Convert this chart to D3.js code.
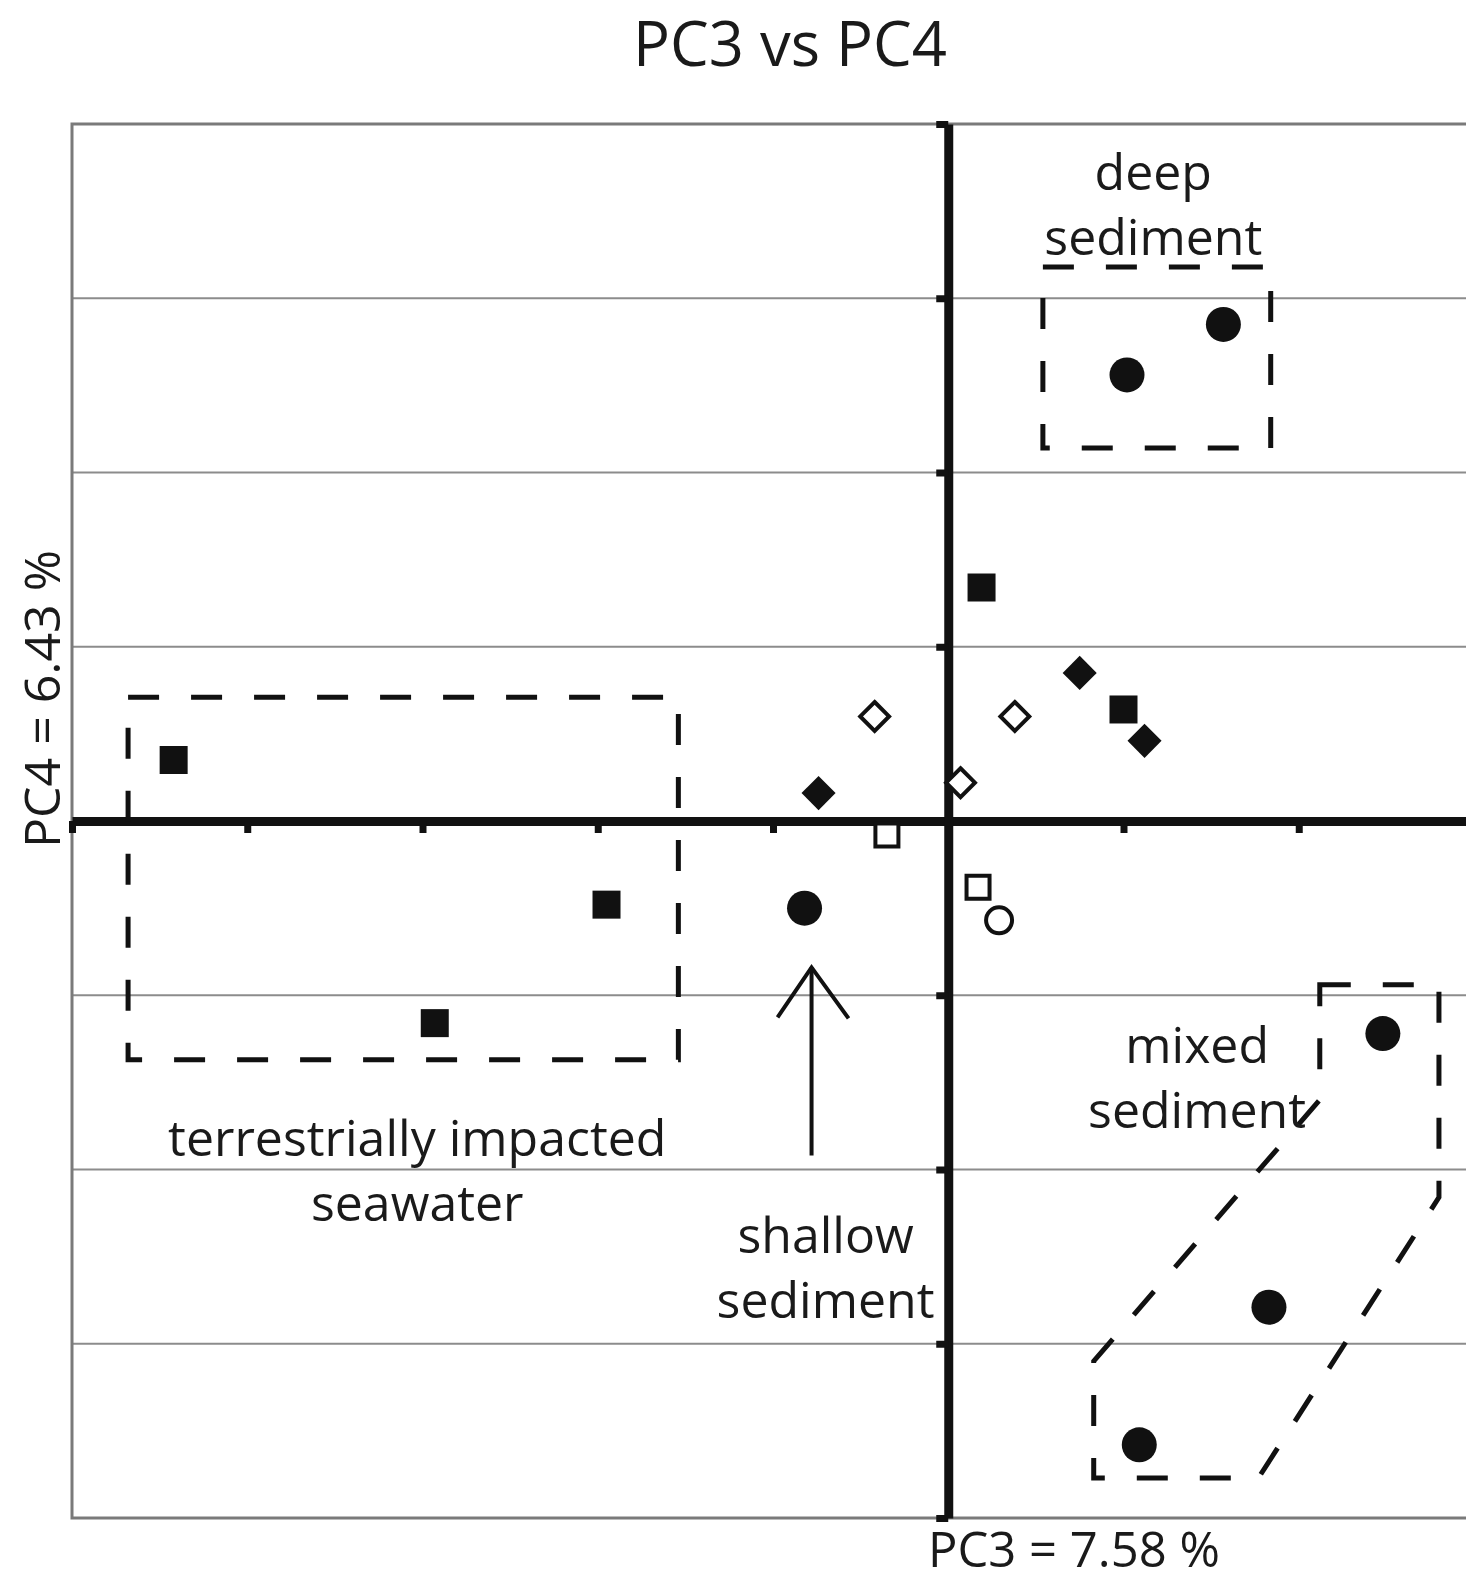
<!DOCTYPE html>
<html>
<head>
<meta charset="utf-8">
<style>
	body { margin: 0; background: #fff; }
	svg { display: block; }
	text { font-family: "Open Sans", sans-serif; fill: #1a1a1a; }
</style>
</head>
<body>
<svg width="1466" height="1582"></svg>
<script src="https://d3js.org/d3.v7.min.js"></script>
<script>
	// sample scores on PC3 (x) and PC4 (y), grouped by marker style
	const filledSquares = [[-4.42, 0.35], [-1.95, -0.48], [-2.93, -1.16], [0.19, 1.34], [1.0, 0.64]];
	const openSquares = [[-0.35, -0.08], [0.17, -0.38]];
	const filledDiamonds = [[-0.74, 0.16], [0.75, 0.85], [1.12, 0.46]];
	const openDiamonds = [[-0.42, 0.6], [0.38, 0.6], [0.07, 0.22]];
	const filledCircles = [[-0.82, -0.5], [1.02, 2.56], [1.57, 2.85], [2.48, -1.22], [1.83, -2.79], [1.09, -3.58]];
	const openCircles = [[0.29, -0.57]];

	const xTicks = [-5, -4, -3, -2, -1, 0, 1, 2, 3];
	const yTicks = [-4, -3, -2, -1, 0, 1, 2, 3, 4];

	// dashed group outlines (data units)
	const terrestrialBox = [[-4.68, 0.71], [-1.54, 0.71], [-1.54, -1.37], [-4.68, -1.37]];
	const deepBox = [[0.54, 3.18], [1.84, 3.18], [1.84, 2.14], [0.54, 2.14]];
	const mixedBox = [[2.12, -0.94], [2.8, -0.94], [2.8, -2.16], [1.77, -3.77], [0.83, -3.77], [0.83, -3.1], [2.12, -1.6]];
	const shallowArrow = [[-0.78, -1.92], [-0.78, -0.84]];

	const groupLabels = [
		{ lines: ["deep", "sediment"], x: 1.17, y: 3.62 },
		{ lines: ["terrestrially impacted", "seawater"], x: -3.03, y: -1.92 },
		{ lines: ["shallow", "sediment"], x: -0.7, y: -2.48 },
		{ lines: ["mixed", "sediment"], x: 1.42, y: -1.39 },
	];

	const titleText = "PC3 vs PC4";
	const xLabel = "PC3 = 7.58 %";
	const yLabel = "PC4 = 6.43 %";

	const svg = d3.select("svg");
	const plot = { left: 72, top: 124, right: 1474, bottom: 1518 };

	const x = d3.scaleLinear().domain([-5, 3]).range([plot.left, plot.right]);
	const y = d3.scaleLinear().domain([-4, 4]).range([plot.bottom, plot.top]);

	// horizontal grid
	svg.append("g")
		.selectAll("line")
		.data(yTicks.filter((d) => d !== 0 && d !== -4 && d !== 4))
		.join("line")
		.attr("x1", plot.left)
		.attr("x2", plot.right)
		.attr("y1", (d) => y(d))
		.attr("y2", (d) => y(d))
		.attr("stroke", "#8c8c8c")
		.attr("stroke-width", 2);

	// frame
	svg.append("rect")
		.attr("x", plot.left)
		.attr("y", plot.top)
		.attr("width", plot.right - plot.left)
		.attr("height", plot.bottom - plot.top)
		.attr("fill", "none")
		.attr("stroke", "#7a7a7a")
		.attr("stroke-width", 3);

	// axes through origin
	const xAxis = svg.append("g")
		.attr("transform", "translate(0," + y(0) + ")")
		.call(d3.axisBottom(x).tickValues(xTicks).tickSize(12).tickSizeOuter(0).tickFormat(""));
	const yAxis = svg.append("g")
		.attr("transform", "translate(" + x(0) + ",0)")
		.call(d3.axisLeft(y).tickValues(yTicks).tickSize(12).tickSizeOuter(0).tickFormat(""));
	[xAxis, yAxis].forEach((a) => {
		a.select(".domain").attr("stroke", "#111").attr("stroke-width", 9);
		a.selectAll(".tick line").attr("stroke", "#111").attr("stroke-width", 7);
	});
	xAxis.selectAll(".tick").filter((d) => d === 0).remove();
	yAxis.selectAll(".tick").filter((d) => d === 0).remove();

	// dashed outlines
	const line = d3.line().x((d) => x(d[0])).y((d) => y(d[1]));
	svg.append("g")
		.selectAll("path")
		.data([terrestrialBox, deepBox, mixedBox])
		.join("path")
		.attr("d", (d) => line(d) + "Z")
		.attr("fill", "none")
		.attr("stroke", "#111")
		.attr("stroke-width", 5)
		.attr("stroke-dasharray", "31 32");

	// arrow to shallow sediment
	const ax = x(shallowArrow[0][0]);
	const tipY = y(shallowArrow[1][1]);
	svg.append("path")
		.attr("d", line(shallowArrow))
		.attr("stroke", "#111")
		.attr("stroke-width", 4);
	svg.append("path")
		.attr("d", "M" + (ax - 34) + "," + (tipY + 50) + "L" + ax + "," + tipY + "L" + (ax + 37) + "," + (tipY + 51))
		.attr("fill", "none")
		.attr("stroke", "#111")
		.attr("stroke-width", 4);

	// markers
	const pts = svg.append("g");
	const sqSym = d3.symbol().type(d3.symbolSquare);
	const dmSym = d3.symbol().type(d3.symbolDiamond2);
	const ciSym = d3.symbol().type(d3.symbolCircle);

	function addMarks(data, sym, size, filled) {
		pts.append("g")
			.selectAll("path")
			.data(data)
			.join("path")
			.attr("transform", (d) => "translate(" + x(d[0]) + "," + y(d[1]) + ")")
			.attr("d", sym.size(size)())
			.attr("fill", filled ? "#111" : "#fff")
			.attr("stroke", "#111")
			.attr("stroke-width", filled ? 0 : 4);
	}
	addMarks(filledSquares, sqSym, 28 * 28, true);
	addMarks(openSquares, sqSym, 23 * 23, false);
	addMarks(filledDiamonds, dmSym, 740, true);
	addMarks(openDiamonds, dmSym, 530, false);
	addMarks(filledCircles, ciSym, Math.PI * 17.5 * 17.5, true);
	addMarks(openCircles, ciSym, Math.PI * 13 * 13, false);

	// group labels
	groupLabels.forEach((lab) => {
		const t = svg.append("text")
			.attr("text-anchor", "middle")
			.attr("font-size", 50)
			.attr("x", x(lab.x))
			.attr("y", y(lab.y));
		lab.lines.forEach((s, i) => {
			t.append("tspan").attr("x", x(lab.x)).attr("dy", i === 0 ? 0 : 65).text(s);
		});
	});

	// titles
	svg.append("text")
		.attr("x", 790)
		.attr("y", 66)
		.attr("text-anchor", "middle")
		.attr("font-size", 61.5)
		.text(titleText);
	svg.append("text")
		.attr("x", 1074)
		.attr("y", 1567)
		.attr("text-anchor", "middle")
		.attr("font-size", 49)
		.text(xLabel);
	svg.append("text")
		.attr("transform", "translate(60,699) rotate(-90)")
		.attr("text-anchor", "middle")
		.attr("font-size", 50)
		.text(yLabel);
</script>
</body>
</html>
